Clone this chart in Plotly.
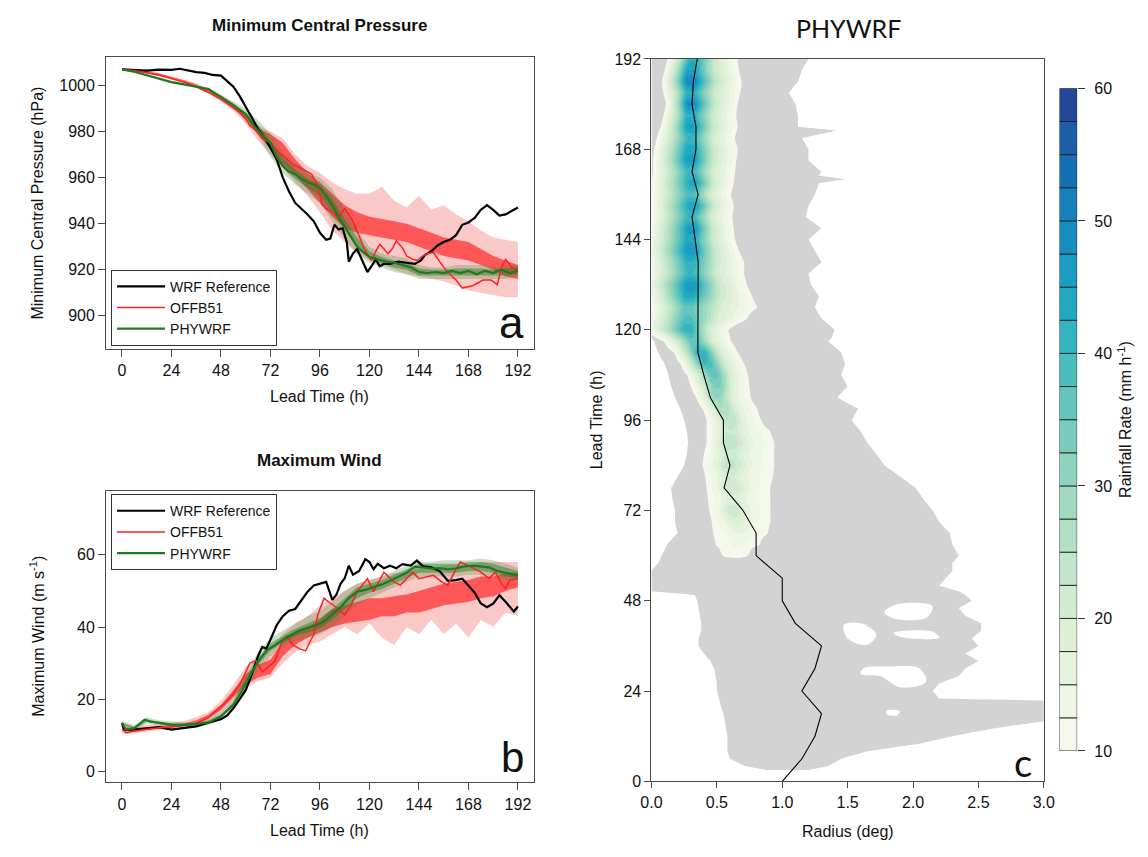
import numpy as np
import plotly.graph_objects as go

W, H = 1148, 857
FONT = "Liberation Sans, Arial, sans-serif"
HUM = "Lato, Open Sans, sans-serif"

# ================= DATA =================
T6 = list(range(0, 193, 6))

T_REF_A = [0, 6, 12, 18, 24, 28, 32, 36, 40, 44, 48, 51, 54, 57, 60, 63, 66, 69, 72, 75,
           78, 81, 84, 87, 90, 93, 96, 99, 101, 103, 105, 107, 109, 110, 112, 114, 116, 118, 119, 121,
           123, 125, 127, 130, 134, 138, 142, 145, 147, 150, 153, 156, 159, 162, 165, 168, 171, 174, 177, 180,
           183, 186, 189, 192]
P_REF = [1007, 1006.8, 1006.5, 1006.9, 1006.8, 1007.3, 1006.4, 1005.8, 1005.5, 1004.6,
         1004.3, 1002, 999.5, 995.5, 991, 986, 981, 977.5, 973, 968,
         960, 954, 949, 946.5, 944, 941, 936, 933, 933.5, 939.5,
         937.5, 938, 932, 923.5, 927, 929, 925, 921, 919, 921.5,
         924.5, 921.5, 922.5, 922.5, 923.5, 923, 922.5, 924, 926.5, 928,
         930.5, 932, 933, 935, 939.5, 940.5, 942.5, 946, 948, 946,
         943.5, 944, 945.5, 947]
T_OFF_A = [0, 6, 12, 18, 24, 30, 36, 42, 48, 54, 57, 60, 62, 65, 68, 72, 76, 80, 83, 86,
           89, 92, 95, 97, 99, 102, 105, 108, 110, 112, 116, 118, 121, 123, 125, 127, 129, 131, 133, 136,
           138, 141, 143, 146, 148, 151, 154, 156, 159, 162, 165, 168, 170, 172, 175, 177, 179, 182, 184, 186,
           189, 192]
P_OFF = [1007, 1006.5, 1005.6, 1004.5, 1003, 1001.5, 999.5, 997, 994, 990.5,
         988.5, 985.5, 982.5, 980.5, 977, 975, 971, 968, 965.5, 964.5,
         963, 961.5, 956, 948.5, 946.5, 945, 942.5, 946.5, 944, 941,
         932.5, 928, 924, 928, 931, 929, 927, 929, 932.5, 929.5,
         926, 924.5, 924, 926, 927, 927.5, 923.5, 921, 918, 915.5,
         912, 912.5, 913, 914, 915.5, 915.5, 915.5, 913.5, 921, 924.5,
         921, 920]
T_PHY_A = [0, 6, 12, 18, 24, 30, 36, 42, 48, 54, 60, 64, 68, 72, 75, 78, 81, 84, 87, 90,
           93, 96, 99, 102, 105, 108, 111, 114, 117, 120, 124, 128, 132, 136, 140, 144, 148, 152, 156, 160,
           164, 168, 172, 176, 180, 184, 188, 192]
P_PHY = [1007, 1006, 1004.5, 1003, 1001.5, 1000.5, 999.5, 998.5, 995, 991.5,
         987.5, 982.5, 978.5, 975, 969, 965, 962.5, 961.5, 959.5, 958,
         957, 955.5, 952, 948, 943, 938.5, 934, 930, 927.5, 925.5,
         924.5, 923.5, 923, 922, 921, 919, 918.5, 919, 918.5, 919.5,
         918.5, 919.5, 918, 919.5, 918.5, 920, 918.5, 919.5]
P_OFF_OUT_LO = [1006.5, 1006, 1005, 1004, 1002.5, 1001, 999, 996.5, 993, 989, 983.5, 976, 970, 964, 958, 952, 945,
                937, 932, 927, 924, 922, 920, 918, 917, 916, 915, 913, 911, 910, 909, 908, 908]
P_OFF_OUT_HI = [1007.5, 1007, 1006.5, 1005.5, 1004, 1002.5, 1001, 998.5, 996, 992.5, 988, 982.5, 980, 977, 970,
                965, 962, 958, 955, 953, 953, 956, 950, 947, 952, 946, 948, 944, 941, 937, 934, 933, 932]
P_OFF_IN_LO = [1006.8, 1006.3, 1005.5, 1004.5, 1003, 1001.5, 999.5, 997, 994, 990, 985, 978.5, 972, 966, 961, 955,
               949, 943, 938, 936, 935, 934, 933, 932, 930, 928, 926, 925, 924, 922, 920, 917, 916]
P_OFF_IN_HI = [1007.2, 1006.8, 1006.2, 1005.2, 1003.8, 1002.3, 1000.5, 998, 995.5, 991.8, 987, 981.5, 979, 975,
               968, 962, 958, 953, 948, 945, 943, 942, 941, 940, 938, 936, 934, 933, 932, 929, 926, 924, 922]
P_PHY_OUT_LO = [1006.5, 1005.5, 1004, 1002.5, 1001, 1000, 999, 997.5, 994, 990, 985, 978, 969, 962, 957, 953, 949,
                941, 933, 927, 923, 921, 919, 918, 916, 916, 916, 916, 916, 916, 916, 916, 917]
P_PHY_OUT_HI = [1007.5, 1006.5, 1005, 1003.5, 1002, 1001, 1000, 999, 996, 993, 990, 985, 979, 971, 966, 962, 960,
                955, 946, 937, 930, 927, 926, 925, 922, 921, 921, 922, 922, 922, 921, 922, 922]
P_PHY_IN_LO = [1006.8, 1005.8, 1004.3, 1002.8, 1001.3, 1000.3, 999.3, 998, 994.6, 991, 986.5, 980, 972, 964.5,
               959.5, 955.5, 952, 945, 937, 929.5, 925, 922.5, 921, 920, 917.5, 917.5, 917.5, 917.5, 917.5,
               917.5, 917.5, 917.5, 918]
P_PHY_IN_HI = [1007.2, 1006.2, 1004.7, 1003.2, 1001.7, 1000.7, 999.7, 998.6, 995.4, 992, 988.5, 983, 976, 968.5,
               963.5, 959.5, 957, 951, 942, 934, 928, 925.5, 924, 923, 920.5, 920, 920, 920.5, 920.5, 920.5,
               920, 920.5, 921]

T_REF_B = [0, 1, 6, 12, 18, 24, 30, 36, 42, 48, 51, 54, 57, 60, 63, 66, 68, 70, 72, 75,
           78, 81, 84, 87, 90, 93, 96, 99, 102, 104, 106, 108, 110, 112, 115, 118, 120, 122, 124, 127,
           130, 133, 136, 140, 143, 146, 150, 154, 158, 162, 165, 168, 171, 174, 177, 180, 183, 186, 189, 190,
           192]
W_REF = [13.4, 11.6, 11.6, 12, 12.3, 11.6, 12, 12.5, 13.5, 14.5,
         15.5, 17.5, 20, 22.5, 27, 32, 34.5, 34, 36.5, 40.5,
         43, 44.5, 45, 47.5, 49.8, 51.5, 52, 52.5, 47.5, 49,
         52, 53.5, 57, 54.5, 55.5, 58.8, 58, 56, 57.5, 56.3,
         57, 56.3, 57.4, 57, 58.4, 56.8, 56.5, 55.5, 52.8, 53,
         53.4, 51.5, 49.5, 46.5, 45.5, 46.5, 48.8, 47, 45, 44.3,
         45.7]
T_OFF_B = [0, 2, 6, 12, 18, 24, 30, 36, 42, 46, 50, 54, 57, 60, 62, 65, 68, 71, 74, 78,
           80, 83, 86, 89, 91, 93, 95, 98, 100, 102, 105, 108, 111, 114, 117, 119, 122, 125, 127, 130,
           132, 135, 138, 141, 144, 148, 151, 155, 158, 161, 164, 168, 171, 174, 178, 181, 184, 186, 188, 190,
           192]
W_OFF = [11.8, 10.7, 11.2, 11.7, 12.1, 12.3, 12.7, 13.3, 15, 17,
         19, 21.5, 24, 27.5, 30, 30.7, 27.5, 29, 30.5, 36.5,
         37.5, 35, 34, 33.4, 35.5, 38, 43.5, 48, 47, 46.2,
         45, 43.4, 46, 49.8, 52, 53.4, 49.8, 53, 55.2, 53.5,
         52.5, 51.6, 53.5, 55.2, 53.4, 54, 54.3, 52.5, 51.6, 55,
         58, 57, 56, 55.2, 53.4, 55.2, 52, 50.7, 53, 53.2,
         53.4]
T_PHY_B = [0, 2, 6, 11, 14, 18, 24, 30, 36, 42, 48, 54, 58, 62, 66, 70, 74, 78, 82, 86,
           90, 94, 98, 102, 106, 110, 114, 118, 122, 126, 130, 134, 138, 142, 146, 150, 154, 158, 162, 166,
           170, 174, 178, 182, 186, 190, 192]
W_PHY = [13.4, 11.6, 12, 14.3, 13.8, 13.4, 13, 12.9, 13.1, 13.6,
         15.3, 18.5, 22, 26.5, 30.5, 33.4, 35, 36.4, 37.8, 39,
         39.8, 40.5, 41.5, 43.5, 45.5, 48, 49.8, 50.3, 51, 51.8,
         52.8, 54, 55, 56.7, 56.5, 56.2, 56.3, 56, 56.2, 56.8,
         57, 56.8, 56.5, 55.5, 55, 54.5, 54.3]
W_OFF_OUT_LO = [10.5, 10.5, 11, 11.5, 11.5, 12, 12.5, 14, 16, 19.5, 23, 25, 26, 30, 33, 35, 36, 38, 40, 38, 41,
                37, 35, 40, 38, 42, 38, 41, 37, 42, 40, 44, 43]
W_OFF_OUT_HI = [13, 12.5, 13, 13, 13.5, 14, 15, 16.5, 19.5, 24, 29, 31, 34, 38, 41, 43, 46, 48, 50, 52, 53, 54,
                55, 55, 56, 56, 57, 57, 57, 58, 58, 58, 58]
W_OFF_IN_LO = [11.3, 11, 11.5, 11.8, 12, 12.5, 13, 14.7, 17, 20.5, 24, 26, 27, 32, 35, 37, 38.5, 40, 41, 41.5, 42,
               43, 43, 44, 44, 45, 46, 46.5, 47, 48, 48.5, 50, 51]
W_OFF_IN_HI = [12.3, 12, 12.3, 12.5, 13, 13.3, 14.2, 15.8, 18.5, 22.5, 27, 29.5, 31, 36, 38.5, 40, 42, 45, 46, 47,
               48, 48, 48.5, 49, 50, 51, 52, 52.5, 53, 54, 54, 55, 55]
W_PHY_OUT_LO = [12.5, 11.3, 13.3, 12.6, 12.3, 12.2, 12.4, 13, 14.3, 17.5, 22.5, 28, 32, 34.5, 36, 37, 38, 40, 43,
                46, 48, 49.5, 51, 52.5, 54, 54, 54, 54, 54.5, 54.5, 54, 53, 53]
W_PHY_OUT_HI = [14, 12.8, 15, 14.2, 13.8, 13.6, 13.8, 14.5, 16.5, 20, 27, 33, 37, 39, 41, 43, 44.5, 47, 50, 52,
                53, 54, 55.5, 57, 58, 58, 58.5, 58.5, 58.5, 59, 58.5, 57.5, 56.5]
W_PHY_IN_LO = [13, 11.7, 13.8, 13.1, 12.7, 12.6, 12.8, 13.4, 14.9, 18.2, 24, 29.5, 33.5, 35.5, 37.5, 38.5, 39.5,
               42, 45, 48, 49.5, 50.5, 52, 53.5, 55, 55, 55, 55, 55.5, 55.5, 55, 54, 53.5]
W_PHY_IN_HI = [13.6, 12.3, 14.4, 13.7, 13.3, 13.2, 13.4, 14.1, 15.8, 19.3, 25.8, 31.5, 35.5, 37.5, 39.5, 41, 42.5,
               45, 48, 51, 52, 53, 54.5, 56, 57.5, 57.5, 57.5, 57.5, 58, 58, 57.5, 56.5, 55.5]

# ---- Panel c ----
T_GRAY = [3, 4, 6, 8, 10, 12, 14, 16, 18, 20, 21.5, 22, 24, 26, 28, 30, 32, 34, 36, 38,
          40, 42, 44, 46, 48, 49.5, 50.5, 52, 54, 56, 58, 60, 63, 66, 69, 72, 75, 78, 81, 84,
          87, 90, 93, 96, 99, 102, 105, 108, 111, 114, 117, 118, 120, 123, 126, 129, 132, 135, 138, 141,
          144, 147, 150, 153, 156, 159, 160, 161, 162, 165, 168, 171, 173, 174, 177, 180, 183, 186, 189, 192]
R_GRAY_IN = [0.88, 0.72, 0.6, 0.58, 0.58, 0.58, 0.57, 0.56, 0.55, 0.53, 0.52, 0.52, 0.5, 0.5, 0.49, 0.48, 0.45, 0.4, 0.36, 0.36,
             0.38, 0.38, 0.37, 0.36, 0.35, 0.33, 0.0, 0.0, 0.0, 0.0, 0.05, 0.08, 0.12, 0.2, 0.18, 0.18, 0.16, 0.15, 0.2, 0.25,
             0.27, 0.28, 0.27, 0.25, 0.22, 0.18, 0.15, 0.13, 0.1, 0.05, 0.02, 0.0, 0.0, 0.0, 0.0, 0.0, 0.0, 0.0, 0.0, 0.0,
             0.0, 0.0, 0.0, 0.0, 0.0, 0.0, 0.0, 0.0, 0.0, 0.0, 0.0, 0.0, 0.0, 0.0, 0.0, 0.0, 0.0, 0.0, 0.0, 0.0]
R_GRAY_OUT = [1.2, 1.35, 1.45, 1.65, 2.05, 2.3, 2.6, 3.0, 3.0, 3.0, 3.0, 2.2, 2.15, 2.2, 2.35, 2.4, 2.5, 2.4, 2.5, 2.45,
              2.52, 2.52, 2.4, 2.35, 2.45, 2.4, 2.35, 2.2, 2.25, 2.3, 2.3, 2.35, 2.3, 2.28, 2.2, 2.15, 2.08, 2.02, 1.9, 1.78,
              1.72, 1.65, 1.6, 1.53, 1.58, 1.42, 1.5, 1.45, 1.48, 1.45, 1.35, 1.38, 1.4, 1.3, 1.25, 1.28, 1.22, 1.2, 1.3, 1.25,
              1.2, 1.3, 1.18, 1.2, 1.25, 1.28, 1.48, 1.28, 1.3, 1.2, 1.2, 1.15, 1.42, 1.12, 1.12, 1.1, 1.05, 1.12, 1.15, 1.2]
HOLES_R = [[1.78, 1.9, 2.15, 2.1, 1.85],
           [1.47, 1.6, 1.72, 1.65, 1.5],
           [1.62, 1.8, 2.05, 2.1, 1.9, 1.75, 1.6],
           [1.8, 1.9, 1.88, 1.8],
           [1.85, 2.15, 2.2, 1.9]]
HOLES_T = [[45, 47.2, 46.5, 43.5, 43.3],
           [41.5, 42, 39, 36.3, 38],
           [30, 30.5, 30, 26.5, 25, 28, 28.5],
           [18.8, 18.6, 17.6, 17.8],
           [39.5, 39.8, 38.2, 38.4]]
# heavy-rain band, every 3 h: inner edge (deg), radius of peak, outer edge, peak rate (mm/h)
T_RAIN = [57, 60, 63, 66, 69, 72, 75, 78, 81, 84, 87, 90, 93, 96, 99, 102, 105, 108,
          111, 114, 117, 120, 123, 126, 129, 132, 135, 138, 141, 144, 147, 150, 153, 156, 159, 162,
          165, 168, 171, 174, 177, 180, 183, 186, 189, 192]
RAIN_IN = [0.6, 0.55, 0.5, 0.48, 0.47, 0.45, 0.44, 0.43, 0.42, 0.4, 0.41, 0.43, 0.43, 0.43, 0.4, 0.35, 0.31, 0.28,
           0.23, 0.18, 0.1, -0.03, -0.02, 0.0, -0.02, -0.04, -0.02, -0.02, -0.03, -0.02, -0.01, 0.0, 0.0, 0.0, 0.01, 0.02,
           0.02, 0.03, 0.05, 0.08, 0.1, 0.12, 0.1, 0.09, 0.11, 0.13]
RAIN_PKR = [0.65, 0.65, 0.66, 0.68, 0.65, 0.62, 0.62, 0.62, 0.6, 0.6, 0.6, 0.6, 0.6, 0.6, 0.55, 0.5, 0.5, 0.48,
            0.42, 0.38, 0.33, 0.28, 0.28, 0.28, 0.29, 0.3, 0.3, 0.3, 0.3, 0.3, 0.31, 0.3, 0.32, 0.3, 0.32, 0.3,
            0.3, 0.3, 0.3, 0.3, 0.3, 0.3, 0.3, 0.3, 0.3, 0.32]
RAIN_OUT = [0.7, 0.73, 0.82, 0.88, 0.9, 0.9, 0.9, 0.9, 0.92, 0.93, 0.93, 0.93, 0.9, 0.83, 0.8, 0.75, 0.74, 0.73,
            0.7, 0.65, 0.6, 0.58, 0.72, 0.8, 0.76, 0.72, 0.7, 0.7, 0.66, 0.63, 0.62, 0.61, 0.62, 0.6, 0.62, 0.63,
            0.64, 0.65, 0.63, 0.65, 0.64, 0.65, 0.67, 0.68, 0.66, 0.65]
RAIN_PK = [6, 11, 13, 15, 19, 22, 18, 22, 20, 24, 21, 25, 22, 25, 27, 30, 33, 36,
           40, 42, 36, 42, 38, 36, 44, 47, 40, 42, 47, 44, 46, 40, 45, 38, 44, 40,
           46, 44, 40, 46, 42, 49, 42, 50, 45, 42]
T_RMAX = [0, 6, 12, 18, 24, 30, 36, 42, 48, 54, 60, 66, 72, 78, 84, 90, 96, 102, 108, 114, 120, 126, 132, 138, 144,
          150, 156, 162, 168, 174, 180, 186, 192]
R_RMAX = [1.0, 1.15, 1.25, 1.3, 1.15, 1.25, 1.3, 1.1, 1.0, 1.0, 0.8, 0.8, 0.7, 0.555, 0.6, 0.55, 0.55, 0.45, 0.4,
          0.355, 0.355, 0.355, 0.355, 0.357, 0.334, 0.31, 0.357, 0.31, 0.34, 0.34, 0.31, 0.32, 0.35]
LEVELS = [10 + 2.5 * i for i in range(21)]
LEVEL_COLORS = ["#f4f9ec", "#eef6e4", "#e6f3dc", "#ddf0d6", "#d0ebcf", "#c2e6c9", "#b1e0c4", "#a0dac1",
                "#8dd3bf", "#79ccbd", "#63c5bc", "#4bbdbd", "#33b4c0", "#22a9c2", "#1b9cc2", "#178ec0",
                "#1680bb", "#1570b3", "#1a5ea7", "#24479a"]
GRAY = "#d3d3d3"


def px(x):
    return x / W


def py(y):
    return 1 - y / H


def band(t, lo, hi):
    return list(t) + list(t)[::-1], list(lo) + list(hi)[::-1]


BLACK, RED, GREEN = "#000000", "#ff2020", "#1f7a1f"
RED_OUT, RED_IN = "rgba(245,110,110,0.38)", "rgba(255,55,55,0.78)"
GRN_OUT, GRN_IN = "rgba(60,140,60,0.28)", "rgba(40,120,40,0.45)"

fig = go.Figure()


def add_panel(xa, ya, leg, tr, vr, to, vo, tp, vp, oolo, oohi, oilo, oihi, polo, pohi, pilo, pihi):
    for lo, hi, col in [(oolo, oohi, RED_OUT), (oilo, oihi, RED_IN), (polo, pohi, GRN_OUT), (pilo, pihi, GRN_IN)]:
        bx, by = band(T6, lo, hi)
        fig.add_trace(go.Scatter(x=bx, y=by, fill="toself", fillcolor=col, line=dict(width=0),
                                 mode="lines", showlegend=False, hoverinfo="skip", xaxis=xa, yaxis=ya))
    fig.add_trace(go.Scatter(x=tr, y=vr, mode="lines", line=dict(color=BLACK, width=2.2),
                             name="WRF Reference", xaxis=xa, yaxis=ya, legend=leg))
    fig.add_trace(go.Scatter(x=to, y=vo, mode="lines", line=dict(color=RED, width=1.5),
                             name="OFFB51", xaxis=xa, yaxis=ya, legend=leg))
    fig.add_trace(go.Scatter(x=tp, y=vp, mode="lines", line=dict(color=GREEN, width=2.2),
                             name="PHYWRF", xaxis=xa, yaxis=ya, legend=leg))


add_panel("x", "y", "legend", T_REF_A, P_REF, T_OFF_A, P_OFF, T_PHY_A, P_PHY,
          P_OFF_OUT_LO, P_OFF_OUT_HI, P_OFF_IN_LO, P_OFF_IN_HI,
          P_PHY_OUT_LO, P_PHY_OUT_HI, P_PHY_IN_LO, P_PHY_IN_HI)
add_panel("x2", "y2", "legend2", T_REF_B, W_REF, T_OFF_B, W_OFF, T_PHY_B, W_PHY,
          W_OFF_OUT_LO, W_OFF_OUT_HI, W_OFF_IN_LO, W_OFF_IN_HI,
          W_PHY_OUT_LO, W_PHY_OUT_HI, W_PHY_IN_LO, W_PHY_IN_HI)

gx = list(R_GRAY_OUT) + list(R_GRAY_IN)[::-1]
gy = list(T_GRAY) + list(T_GRAY)[::-1]
fig.add_trace(go.Scatter(x=gx, y=gy, fill="toself", fillcolor=GRAY, line=dict(width=0, color=GRAY),
                         mode="lines", showlegend=False, hoverinfo="skip", xaxis="x3", yaxis="y3"))
for hr, ht in zip(HOLES_R, HOLES_T):
    fig.add_trace(go.Scatter(x=hr + [hr[0]], y=ht + [ht[0]], fill="toself", fillcolor="white",
                             line=dict(width=0, color="white"), mode="lines", line_shape="spline",
                             showlegend=False, hoverinfo="skip", xaxis="x3", yaxis="y3"))

# grid of the heavy-rain field built from the band description above
r_grid = np.round(np.arange(0, 1.2001, 0.02), 3)
z = []
for ci, pr, co, pk in zip(RAIN_IN, RAIN_PKR, RAIN_OUT, RAIN_PK):
    if pk < 10:
        z.append([6.0] * len(r_grid))
        continue
    xp = [ci - 0.08, ci, (ci + pr) / 2, pr - 0.03, pr + 0.03, (pr + co) / 2, co, co + 0.08]
    fp = [6, 10.5, 10.5 + 0.5 * (pk - 10.5), pk, pk, 10.5 + 0.35 * (pk - 10.5), 10.5, 6]
    keep_x, keep_f = [xp[0]], [fp[0]]
    for a, b in zip(xp[1:], fp[1:]):
        if a > keep_x[-1] + 1e-6:
            keep_x.append(a)
            keep_f.append(b)
    z.append(np.interp(r_grid, keep_x, keep_f).tolist())

nc = len(LEVELS)
cscale = [[0.0, "rgba(255,255,255,0)"]]
for j in range(1, nc + 1):
    cscale.append([j / nc, LEVEL_COLORS[min(j - 1, len(LEVEL_COLORS) - 1)]])

fig.add_trace(go.Contour(x=r_grid.tolist(), y=T_RAIN, z=z, autocontour=False,
                         contours=dict(start=LEVELS[0], end=LEVELS[-1], size=2.5, coloring="fill", showlines=False),
                         colorscale=cscale, showscale=False, line=dict(width=0, smoothing=1),
                         hoverinfo="skip", xaxis="x3", yaxis="y4"))
fig.add_trace(go.Scatter(x=R_RMAX, y=T_RMAX, mode="lines", line=dict(color="black", width=1.1),
                         showlegend=False, hoverinfo="skip", xaxis="x3", yaxis="y4"))

fig.add_trace(go.Bar(x=[0] * (nc - 1), y=[2.5] * (nc - 1), base=LEVELS[:-1], width=1,
                     marker=dict(color=LEVEL_COLORS, line=dict(color="#222", width=0.9)),
                     showlegend=False, hoverinfo="skip", xaxis="x5", yaxis="y5"))

AX = dict(showgrid=False, zeroline=False, showline=True, mirror=True, linecolor="#4a4a4a", linewidth=1.2,
          ticks="outside", ticklen=7, tickwidth=1.2, tickcolor="#4a4a4a",
          tickfont=dict(family=FONT, size=16, color="#111"))
XA_DOM = [px(97), px(533)]
XR = [-7.68, 199.68]
TV = list(range(0, 193, 24))
LEG = dict(xanchor="left", yanchor="top", bgcolor="white", bordercolor="#333", borderwidth=1,
           font=dict(family=FONT, size=14, color="#111"), tracegroupgap=0, itemwidth=48)

lay = dict(
    width=W, height=H, margin=dict(l=0, r=0, t=0, b=0), autosize=False,
    paper_bgcolor="white", plot_bgcolor="white", barmode="overlay", showlegend=True,
    xaxis=dict(AX, domain=XA_DOM, range=XR, tickvals=TV, anchor="y"),
    yaxis=dict(AX, domain=[py(348), py(50)], range=[885.5, 1012.4], tickvals=list(range(900, 1001, 20)),
               anchor="x"),
    xaxis2=dict(AX, domain=XA_DOM, range=XR, tickvals=TV, anchor="y2"),
    yaxis2=dict(AX, domain=[py(790), py(493)], range=[-3.0, 77.6], tickvals=[0, 20, 40, 60], anchor="x2"),
    xaxis3=dict(AX, domain=[px(653), px(1053)], range=[0, 3], tickvals=[0, 0.5, 1, 1.5, 2, 2.5, 3],
                tickformat=".1f", anchor="y3", ticklen=6),
    yaxis3=dict(AX, domain=[py(789), py(52)], range=[0, 192], tickvals=TV, anchor="x3", ticklen=6),
    yaxis4=dict(domain=[py(789), py(52)], range=[0, 192], overlaying="y3", anchor="x3", visible=False),
    xaxis5=dict(domain=[px(1069), px(1087)], range=[-0.5, 0.5], visible=False, anchor="y5"),
    yaxis5=dict(domain=[py(758), py(82)], range=[10, 60], side="right", anchor="x5", showgrid=False,
                zeroline=False, showline=False, ticks="outside", ticklen=7, tickcolor="#333",
                ticklabelstandoff=6,
                tickvals=[10, 20, 30, 40, 50, 60], tickfont=dict(family=FONT, size=16, color="#111")),
    legend=dict(LEG, x=px(102), y=py(267)),
    legend2=dict(LEG, x=px(102), y=py(496)),
)

ann = []


def A(text, x, y, size=16, fam=FONT, angle=0, bold=False, color="#111"):
    ann.append(dict(text=("<b>%s</b>" % text) if bold else text, x=px(x), y=py(y), xref="paper", yref="paper",
                    showarrow=False, xanchor="center", yanchor="middle", textangle=angle,
                    font=dict(family=fam, size=size, color=color)))


A("Minimum Central Pressure", 315, 18, size=17, bold=True)
A("Maximum Wind", 315, 462, size=17, bold=True)
A("PHYWRF", 854, 20, size=25, fam=HUM)
A("Lead Time (h)", 315, 396)
A("Lead Time (h)", 315, 839)
A("Radius (deg)", 853, 840)
A("Minimum Central Pressure (hPa)", 27, 199, angle=-90)
A("Maximum Wind (m s<sup>-1</sup>)", 27, 641, angle=-90)
A("Lead Time (h)", 597, 420, angle=-90)
A("Rainfall Rate (mm h<sup>-1</sup>)", 1135, 420, angle=-90)
A("a", 510, 321, size=44)
A("b", 511, 765, size=42)
A("c", 1032, 769, size=38, fam=HUM)
lay["annotations"] = ann

fig.update_layout(**lay)
fig.write_html("out.html", config={"displayModeBar": False},
               post_script="document.body.style.margin='0px';document.body.style.padding='0px';"
                           "document.documentElement.style.overflow='hidden';")
